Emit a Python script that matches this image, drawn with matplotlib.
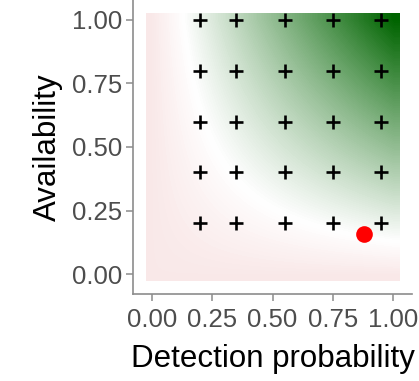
import numpy as np
import matplotlib
matplotlib.use("Agg")
import matplotlib.pyplot as plt
from matplotlib.colors import LinearSegmentedColormap, Normalize

# Data
detection_grid = np.round(np.arange(0, 1.0001, 0.05), 2)
availability_grid = np.round(np.arange(0, 1.0001, 0.05), 2)
design_detection = [0.20, 0.35, 0.55, 0.75, 0.95]
design_availability = [0.2, 0.4, 0.6, 0.8, 1.0]
observed_detection = [0.88]
observed_availability = [0.16]
midpoint = 0.13
xticks = [0.00, 0.25, 0.50, 0.75, 1.00]
yticks = [0.00, 0.25, 0.50, 0.75, 1.00]

plt.rcParams['font.family'] = ['Liberation Sans', 'DejaVu Sans']

fig = plt.figure(figsize=(4.19, 3.81), dpi=100)
ax = fig.add_axes([133/419, 1 - 294/381, (412-133)/419, 294/381])

P, A = np.meshgrid(detection_grid, availability_grid)
Z = P * A
cmap = LinearSegmentedColormap.from_list("rwg", ["#DA6A6A", "#FFFFFF", "#006400"])
norm = Normalize(vmin=2*midpoint - 1, vmax=1)
step = detection_grid[1] - detection_grid[0]
ax.imshow(Z, origin="lower", cmap=cmap, norm=norm, interpolation="bilinear",
          extent=[detection_grid[0]-step/2, detection_grid[-1]+step/2,
                  availability_grid[0]-step/2, availability_grid[-1]+step/2],
          aspect="auto")

DX, DY = np.meshgrid(design_detection, design_availability)
ax.plot(DX.ravel(), DY.ravel(), linestyle="none", marker="+", color="black",
        markersize=9.5, markeredgewidth=1.9)
ax.plot(observed_detection, observed_availability, linestyle="none", marker="o",
        color="#FF0000", markersize=12, markeredgewidth=0)

ax.set_xlim(-0.0775, 1.0775)
ax.set_ylim(-0.0775, 1.0775)
ax.set_xticks(xticks)
ax.set_yticks(yticks)
ax.set_xticklabels([f"{v:.2f}" for v in xticks])
ax.set_yticklabels([f"{v:.2f}" for v in yticks])
for s in ["top", "right"]:
    ax.spines[s].set_visible(False)
for s in ["left", "bottom"]:
    ax.spines[s].set_color("#8C8C8C")
    ax.spines[s].set_linewidth(1.2)
ax.tick_params(axis="both", colors="#8C8C8C", length=5, width=1.1,
               labelsize=18.5, labelcolor="#4D4D4D")
ax.tick_params(axis="x", pad=5)
ax.tick_params(axis="y", pad=3)
ax.set_xlabel("Detection probability", fontsize=22.5, color="black", labelpad=9)
ax.set_ylabel("Availability", fontsize=22.5, color="black", labelpad=6)

fig.savefig("out.png", dpi=100)
